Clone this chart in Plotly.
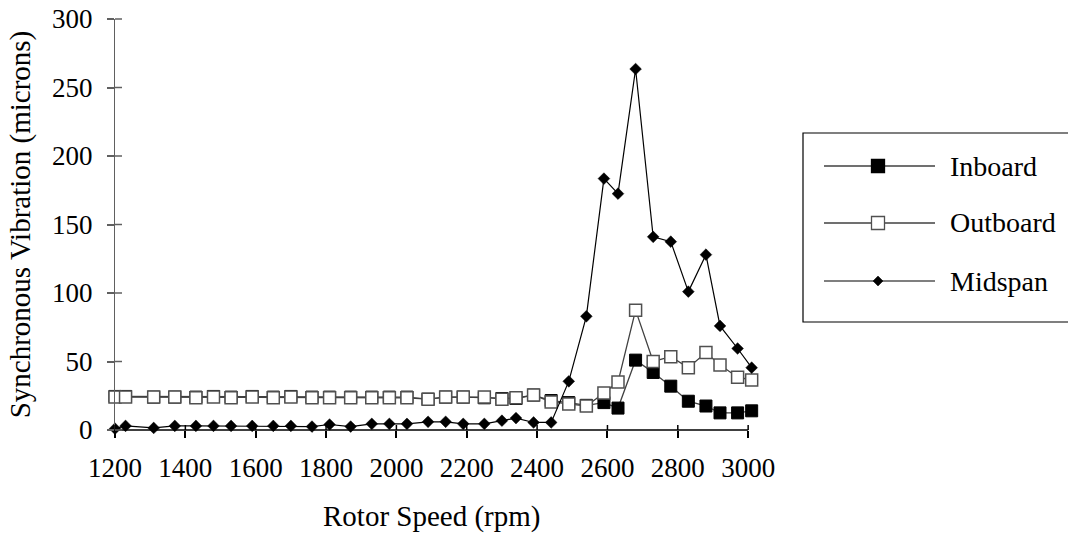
import plotly.graph_objects as go

# ---- data ----
rpm = [1200, 1230, 1310, 1370, 1430, 1480, 1530, 1590, 1650, 1700, 1760, 1810,
       1870, 1930, 1980, 2030, 2090, 2140, 2190, 2250, 2300, 2340, 2390, 2440,
       2490, 2540, 2590, 2630, 2680, 2730, 2780, 2830, 2880, 2920, 2970, 3010]

inboard = [24.5, 24.5, 24, 24, 24, 24.5, 24, 24.5, 24, 24.5, 24, 24,
           24, 24, 24, 24, 22.5, 24, 24, 23.5, 23, 23, 25.5, 21.5,
           20, 18, 20, 16, 51, 42, 32, 21, 17.5, 12.5, 12.5, 14]

outboard = [24, 24, 24, 24, 23.5, 24, 23.5, 24, 23.5, 24, 23.5, 23.5,
            23.5, 23.5, 23.5, 23.5, 22.5, 24, 24, 24, 22.5, 23.5, 25.5, 20.5,
            19, 17.5, 27, 35, 87.5, 50, 53.5, 45.5, 56.5, 47.5, 38.5, 36.5]

midspan = [1, 3, 1.5, 3, 3, 3, 3, 3, 3, 3, 2.5, 4,
           2.5, 4.5, 4.5, 4.5, 6, 6, 4.5, 4.5, 6.8, 8.7, 5.5, 5.5,
           35.5, 83, 183.5, 172.5, 263.5, 141, 137.5, 101, 128, 76, 59.5, 45.5]

series_names = ["Inboard", "Outboard", "Midspan"]
x_ticks = [1200, 1400, 1600, 1800, 2000, 2200, 2400, 2600, 2800, 3000]
y_ticks = [0, 50, 100, 150, 200, 250, 300]

FONT = "Liberation Serif"
X_RANGE = [1200, 3028]
Y_RANGE = [0, 300]

# ---- styles ----
styles = {
    "Inboard": dict(marker=dict(symbol="square", size=12, color="black",
                                line=dict(color="black", width=1)),
                    line=dict(color="#404040", width=1.3)),
    "Outboard": dict(marker=dict(symbol="square", size=12, color="white",
                                 line=dict(color="#505050", width=1.5)),
                     line=dict(color="#404040", width=1.3)),
    "Midspan": dict(marker=dict(symbol="diamond", size=9, color="black",
                                line=dict(color="black", width=0.5)),
                    line=dict(color="black", width=1.2)),
}
values = {"Inboard": inboard, "Outboard": outboard, "Midspan": midspan}

fig = go.Figure()
for name in series_names:
    fig.add_trace(go.Scatter(x=rpm, y=values[name], name=name, mode="lines+markers",
                             marker=styles[name]["marker"], line=styles[name]["line"],
                             cliponaxis=False, showlegend=False))

W, H = 1068, 536
L, R, T, B = 115, 310, 19, 106
PW, PH = W - L - R, H - T - B


def px(xpix):
    return (xpix - L) / PW


def py(ypix):
    return (H - B - ypix) / PH


def xpaper(v):
    return (v - X_RANGE[0]) / (X_RANGE[1] - X_RANGE[0])


def ypaper(v):
    return (v - Y_RANGE[0]) / (Y_RANGE[1] - Y_RANGE[0])


shapes = []
# x axis line (1200..3000)
shapes.append(dict(type="line", xref="paper", yref="paper",
                   x0=xpaper(x_ticks[0]), x1=xpaper(x_ticks[-1]), y0=0, y1=0,
                   line=dict(color="black", width=1.3)))
# inner halves of the crossing tick marks
for t in x_ticks:
    shapes.append(dict(type="line", xref="paper", yref="paper",
                       x0=xpaper(t), x1=xpaper(t), y0=0, y1=5 / PH,
                       line=dict(color="black", width=1.5)))
for t in y_ticks:
    shapes.append(dict(type="line", xref="paper", yref="paper",
                       y0=ypaper(t), y1=ypaper(t), x0=0, x1=7 / PW,
                       line=dict(color="#606060", width=1.5)))

# legend box
shapes.append(dict(type="rect", xref="paper", yref="paper",
                   x0=px(803), x1=px(1080), y0=py(133), y1=py(322),
                   line=dict(color="black", width=1.2), fillcolor="rgba(0,0,0,0)"))

annotations = []
leg_y = [166, 223, 281]
for name, yy in zip(series_names, leg_y):
    st = styles[name]
    shapes.append(dict(type="line", xref="paper", yref="paper",
                       x0=px(824), x1=px(935), y0=py(yy), y1=py(yy),
                       line=dict(color=st["line"]["color"], width=st["line"]["width"])))
    if st["marker"]["symbol"] == "square":
        shapes.append(dict(type="rect", xref="paper", yref="paper",
                           x0=px(878 - 6.5), x1=px(878 + 6.5),
                           y0=py(yy + 6.5), y1=py(yy - 6.5),
                           fillcolor=st["marker"]["color"],
                           line=dict(color=st["marker"]["line"]["color"], width=1.3)))
    else:
        shapes.append(dict(type="path", xref="paper", yref="paper",
                           xsizemode="pixel", ysizemode="pixel",
                           xanchor=px(878), yanchor=py(yy),
                           path="M0,-5L5,0L0,5L-5,0Z",
                           fillcolor="black", line=dict(color="black", width=0.5)))
    annotations.append(dict(xref="paper", yref="paper", x=px(948), y=py(yy),
                            xanchor="left", yanchor="middle", text=name, showarrow=False,
                            font=dict(family=FONT, size=28, color="black")))

# x axis title
annotations.append(dict(xref="paper", yref="paper",
                        x=xpaper((x_ticks[0] + x_ticks[-1]) / 2), y=0,
                        yshift=-86, xanchor="center", yanchor="middle",
                        text="Rotor Speed (rpm)", showarrow=False,
                        font=dict(family=FONT, size=29, color="black")))

fig.update_layout(
    width=W, height=H,
    margin=dict(l=L, r=R, t=T, b=B, pad=0),
    paper_bgcolor="white", plot_bgcolor="white",
    font=dict(family=FONT, size=27, color="black"),
    showlegend=False,
    shapes=shapes,
    annotations=annotations,
    xaxis=dict(range=X_RANGE, tickvals=x_ticks, ticktext=[str(v) for v in x_ticks],
               showgrid=False, zeroline=False, showline=False,
               ticks="outside", ticklen=7, tickwidth=1.5, tickcolor="black",
               automargin=False,
               ticklabelstandoff=7, tickfont=dict(family=FONT, size=27)),
    yaxis=dict(range=Y_RANGE, tickvals=y_ticks, ticktext=[str(v) for v in y_ticks],
               showgrid=False, zeroline=False, showline=True, linecolor="#606060",
               linewidth=1.3, ticks="outside", ticklen=7, tickwidth=1.5,
               tickcolor="#606060", ticklabelstandoff=9, automargin=False,
               tickfont=dict(family=FONT, size=27),
               title=dict(text="Synchronous Vibration (microns)", standoff=12,
                          font=dict(family=FONT, size=29))),
)

fig.write_html("out.html",
               post_script="document.body.style.margin='0px';document.body.style.padding='0px';")
